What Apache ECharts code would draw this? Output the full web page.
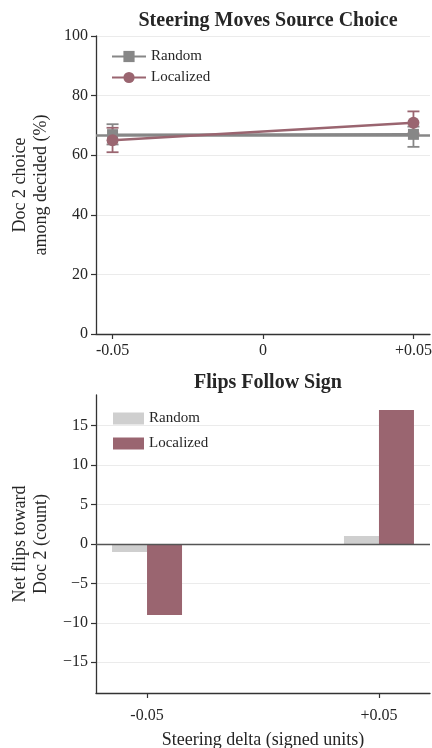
<!DOCTYPE html>
<html>
<head>
<meta charset="utf-8">
<script src="https://cdn.jsdelivr.net/npm/echarts@6/dist/echarts.min.js"></script>
<style>
  html, body { margin: 0; padding: 0; background: #fff; }
  #main { width: 432px; height: 748px; }
</style>
</head>
<body>
<div id="main"></div>
<script>
var myChart = echarts.init(document.getElementById('main'));

// top panel: share of Doc 2 choice (%)
var steerX = [-0.05, 0.05];
var randomMean = [66.9, 67.0];
var randomLow = [63.6, 62.8];
var randomHigh = [70.4, 69.6];
var localMean = [65.0, 70.9];
var localLow = [61.0, 67.3];
var localHigh = [69.2, 74.7];
var randomBaseline = 66.8;
var topTicks = [-0.05, 0, 0.05];

// bottom panel: net flips
var randomFlips = [-1, 1];
var localFlips = [-9, 17];
var bottomXTicks = [-0.05, 0.05];
var bottomYTicks = [-15, -10, -5, 0, 5, 10, 15];

var grayCol = '#878787';
var pinkCol = '#9a6570';
var lightGray = '#cfcfcf';
var textCol = '#262626';
var font = 'Liberation Serif';

function pts(xs, ys) {
    return xs.map(function (x, i) { return [x, ys[i]]; });
}
function errData(xs, lo, hi) {
    return xs.map(function (x, i) { return [x, lo[i], hi[i]]; });
}
function fmtX(v) {
    if (Math.abs(v) < 1e-9) return '0';
    return (v > 0 ? '+' : '') + v.toFixed(2);
}
function errorBars(color) {
    return function (params, api) {
        var x = api.value(0);
        var p1 = api.coord([x, api.value(1)]);
        var p2 = api.coord([x, api.value(2)]);
        var cap = 6;
        var style = { stroke: color, lineWidth: 1.8 };
        return {
            type: 'group',
            children: [
                { type: 'line', shape: { x1: p1[0], y1: p1[1], x2: p2[0], y2: p2[1] }, style: style },
                { type: 'line', shape: { x1: p1[0] - cap, y1: p1[1], x2: p1[0] + cap, y2: p1[1] }, style: style },
                { type: 'line', shape: { x1: p2[0] - cap, y1: p2[1], x2: p2[0] + cap, y2: p2[1] }, style: style }
            ]
        };
    };
}

var axisLine = { show: true, onZero: false, lineStyle: { color: '#333', width: 1.3 } };
var axisTick = { show: true, length: 5, lineStyle: { color: '#333', width: 1.2 } };
var tickLabel = { color: textCol, fontFamily: font, fontSize: 16 };
var nameStyle = { color: textCol, fontFamily: font, fontSize: 18, lineHeight: 21 };

var gridLines = bottomYTicks.filter(function (v) { return v !== 0; }).map(function (v) {
    return { yAxis: v };
});

option = {
    backgroundColor: '#fff',
    animation: false,
    title: [
        {
            text: 'Steering Moves Source Choice',
            left: 263, top: 6, textAlign: 'center',
            textStyle: { fontFamily: font, fontSize: 20, fontWeight: 'bold', color: textCol }
        },
        {
            text: 'Flips Follow Sign',
            left: 263, top: 368, textAlign: 'center',
            textStyle: { fontFamily: font, fontSize: 20, fontWeight: 'bold', color: textCol }
        }
    ],
    legend: [
        {
            left: 106, top: 44, orient: 'vertical', itemGap: 6,
            itemWidth: 34, itemHeight: 14,
            textStyle: { fontFamily: font, fontSize: 15, color: textCol },
            data: ['Random', 'Localized']
        },
        {
            left: 108, top: 406, orient: 'vertical', itemGap: 10,
            itemWidth: 31, itemHeight: 12,
            textStyle: { fontFamily: font, fontSize: 15, color: textCol },
            data: [
                { name: 'Random', icon: 'rect', itemStyle: { color: lightGray } },
                { name: 'Localized', icon: 'rect', itemStyle: { color: pinkCol } }
            ]
        }
    ],
    grid: [
        { left: 96, top: 36, width: 334, height: 298, outerBoundsMode: 'none', containLabel: false },
        { left: 96, top: 395, width: 334, height: 298, outerBoundsMode: 'none', containLabel: false }
    ],
    xAxis: [
        {
            type: 'value', gridIndex: 0, min: -0.0555, max: 0.0555,
            axisLine: axisLine,
            axisTick: Object.assign({ customValues: topTicks }, axisTick),
            axisLabel: Object.assign({ customValues: topTicks, formatter: fmtX, margin: 9 }, tickLabel),
            splitLine: { show: false }
        },
        {
            type: 'value', gridIndex: 1, min: -0.072, max: 0.072,
            name: 'Steering delta (signed units)', nameLocation: 'middle', nameGap: 37,
            nameTextStyle: nameStyle,
            axisLine: axisLine,
            axisTick: Object.assign({ customValues: bottomXTicks }, axisTick),
            axisLabel: Object.assign({ customValues: bottomXTicks, formatter: fmtX, margin: 15 }, tickLabel),
            splitLine: { show: false }
        }
    ],
    yAxis: [
        {
            type: 'value', gridIndex: 0, min: 0, max: 100, interval: 20,
            name: 'Doc 2 choice\namong decided (%)', nameLocation: 'middle', nameGap: 44,
            nameTextStyle: nameStyle,
            axisLine: axisLine, axisTick: axisTick,
            axisLabel: Object.assign({ margin: 8 }, tickLabel),
            splitLine: { show: true, lineStyle: { color: '#ebebeb', width: 1.2 } }
        },
        {
            type: 'value', gridIndex: 1, min: -18.9, max: 18.9,
            name: 'Net flips toward\nDoc 2 (count)', nameLocation: 'middle', nameGap: 44,
            nameTextStyle: nameStyle,
            axisLine: axisLine,
            axisTick: Object.assign({ customValues: bottomYTicks }, axisTick),
            axisLabel: Object.assign({
                customValues: bottomYTicks, margin: 8,
                formatter: function (v) { return v < 0 ? '\u2212' + Math.abs(v) : String(v); }
            }, tickLabel),
            splitLine: { show: false }
        }
    ],
    series: [
        {
            name: 'Random', type: 'line', xAxisIndex: 0, yAxisIndex: 0,
            data: pts(steerX, randomMean),
            symbol: 'rect', symbolSize: 11,
            lineStyle: { color: grayCol, width: 2.5 },
            itemStyle: { color: grayCol },
            z: 3,
            markLine: {
                silent: true, symbol: 'none', label: { show: false }, z: 2,
                lineStyle: { color: grayCol, width: 2.5, type: 'solid' },
                data: [{ yAxis: randomBaseline }]
            }
        },
        {
            name: 'Localized', type: 'line', xAxisIndex: 0, yAxisIndex: 0,
            data: pts(steerX, localMean),
            symbol: 'circle', symbolSize: 12,
            lineStyle: { color: pinkCol, width: 2.5 },
            itemStyle: { color: pinkCol },
            z: 4
        },
        {
            type: 'custom', xAxisIndex: 0, yAxisIndex: 0,
            data: errData(steerX, randomLow, randomHigh),
            renderItem: errorBars(grayCol), z: 2, silent: true
        },
        {
            type: 'custom', xAxisIndex: 0, yAxisIndex: 0,
            data: errData(steerX, localLow, localHigh),
            renderItem: errorBars(pinkCol), z: 2, silent: true
        },
        {
            // light horizontal grid for the bottom panel, under the bars
            type: 'line', xAxisIndex: 1, yAxisIndex: 1, data: [], z: 0, silent: true,
            markLine: {
                silent: true, symbol: 'none', label: { show: false }, z: 0,
                lineStyle: { color: '#ebebeb', width: 1.2, type: 'solid' },
                data: gridLines
            }
        },
        {
            name: 'Random', type: 'bar', xAxisIndex: 1, yAxisIndex: 1,
            data: pts(steerX, randomFlips),
            barWidth: 35, barGap: '0%',
            itemStyle: { color: lightGray },
            z: 3
        },
        {
            name: 'Localized', type: 'bar', xAxisIndex: 1, yAxisIndex: 1,
            data: pts(steerX, localFlips),
            barWidth: 35, barGap: '0%',
            itemStyle: { color: pinkCol },
            z: 3
        },
        {
            // zero line over the bars
            type: 'line', xAxisIndex: 1, yAxisIndex: 1, data: [], z: 5, silent: true,
            markLine: {
                silent: true, symbol: 'none', label: { show: false }, z: 5,
                lineStyle: { color: '#555', width: 1.3, type: 'solid' },
                data: [{ yAxis: 0 }]
            }
        }
    ]
};

myChart.setOption(option);
</script>
</body>
</html>
